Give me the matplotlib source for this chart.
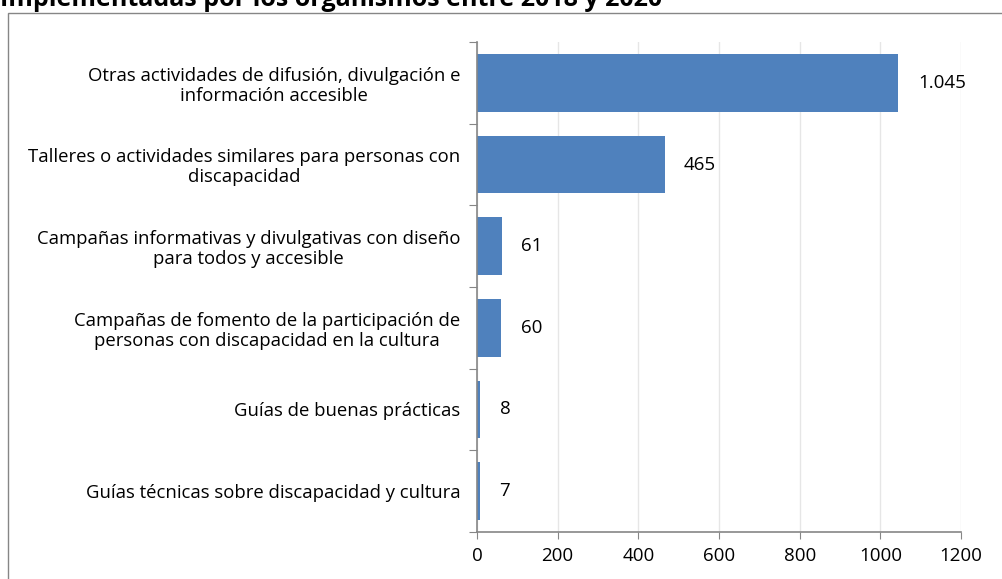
import matplotlib.pyplot as plt
import numpy as np

plt.rcParams['font.family'] = ['Open Sans', 'DejaVu Sans']

# datos
categorias = [
    'Otras actividades de difusión, divulgación e\ninformación accesible',
    'Talleres o actividades similares para personas con\ndiscapacidad',
    'Campañas informativas y divulgativas con diseño\npara todos y accesible',
    'Campañas de fomento de la participación de\npersonas con discapacidad en la cultura',
    'Guías de buenas prácticas',
    'Guías técnicas sobre discapacidad y cultura',
]
valores = [1045, 465, 61, 60, 8, 7]
etiquetas = ['1.045', '465', '61', '60', '8', '7']
titulo = 'Implementadas por los organismos entre 2018 y 2020'

fig = plt.figure(figsize=(10.03, 5.79), dpi=100)

# marco del gráfico (recortado a la derecha y abajo)
marco = plt.Rectangle((8 / 1003, -0.05), 1.1, 1 - 13 / 579 + 0.05,
                      transform=fig.transFigure, fill=False,
                      edgecolor='#868686', linewidth=1.0)
fig.patches.append(marco)

fig.text(0.0, 1 - 5.5 / 579, titulo, fontsize=18, fontweight='bold',
         ha='left', va='baseline')

ax = fig.add_axes([477 / 1003, 1 - 532 / 579, 484 / 1003, 490 / 579])
y = np.arange(len(categorias))
ax.barh(y, valores, height=0.71, color='#4f81bd', zorder=2)

for yi, v, t in zip(y, valores, etiquetas):
    ax.text(v + 48, yi, t, va='center', ha='left', fontsize=13.5)

ax.set_xlim(0, 1200)
ax.set_ylim(len(categorias) - 0.5, -0.5)
ax.set_xticks(np.arange(0, 1201, 200))
ax.set_yticks(np.arange(-0.5, len(categorias), 1.0))
ax.set_yticklabels([])
ax.set_yticks(y, minor=True)
ax.set_yticklabels(categorias, minor=True, fontsize=13.3, ha='right',
                   multialignment='center', linespacing=1.12)
ax.tick_params(axis='y', which='minor', length=0, pad=12)
ax.tick_params(axis='y', which='major', length=6, color='#868686')
ax.tick_params(axis='x', length=5, color='#868686', labelsize=13.5, pad=6)

ax.grid(axis='x', color='#e6e6e6', linewidth=1, zorder=0)
for s in ['top', 'right']:
    ax.spines[s].set_visible(False)
for s in ['left', 'bottom']:
    ax.spines[s].set_color('#868686')
    ax.spines[s].set_linewidth(1.2)

plt.savefig('out.png', dpi=100)
